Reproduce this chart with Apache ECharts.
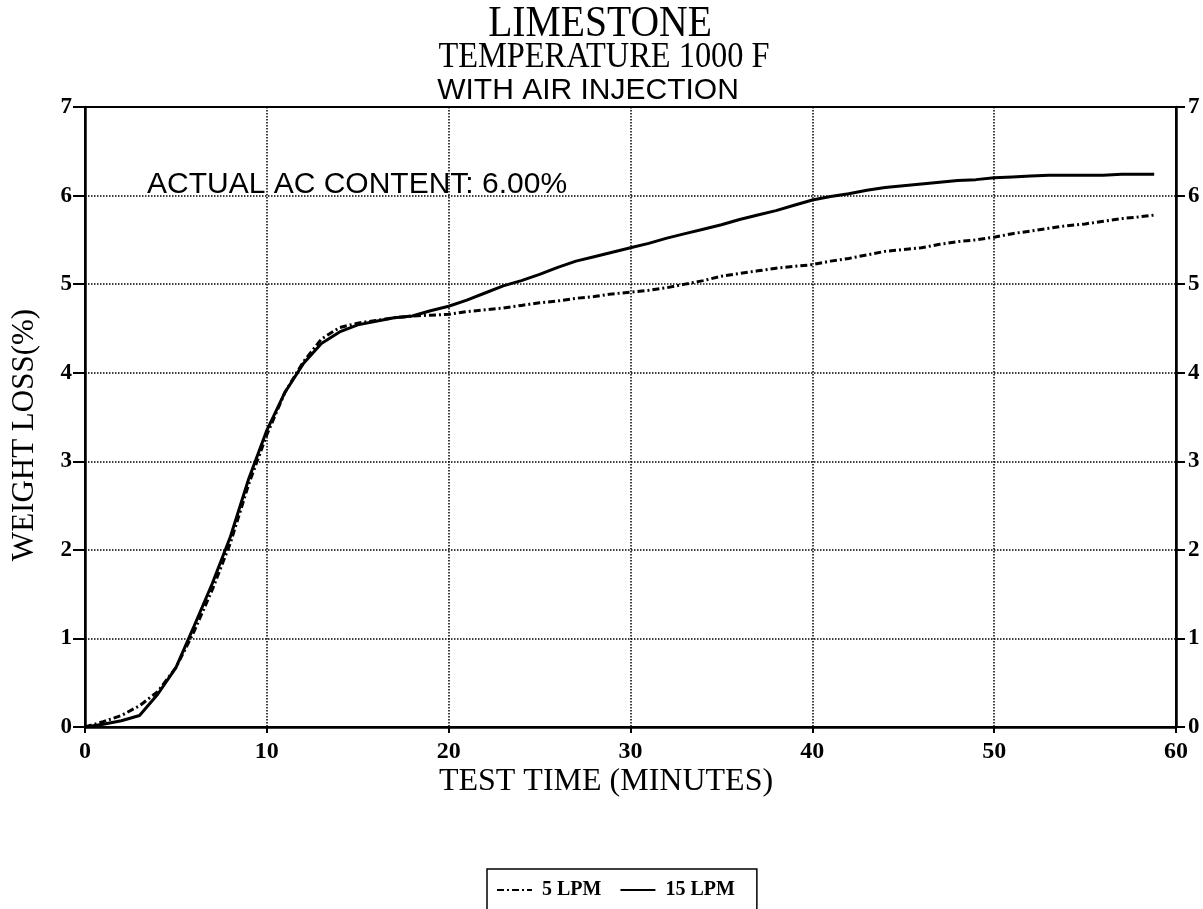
<!DOCTYPE html>
<html>
<head>
<meta charset="utf-8">
<script src="https://cdn.jsdelivr.net/npm/echarts@6/dist/echarts.min.js"></script>
<style>html,body{margin:0;padding:0;background:#fff}#c{width:1203px;height:909px}</style>
</head>
<body>
<div id="c"></div>
<script>
var times = [0,1,2,3,4,5,6,7,8,9,10,11,12,13,14,15,16,17,18,19,20,21,22,23,24,25,26,27,28,29,30,31,32,33,34,35,36,37,38,39,40,41,42,43,44,45,46,47,48,49,50,51,52,53,54,55,56,57,58,58.8];
var loss5LPM = [0,0.06,0.13,0.24,0.40,0.67,1.08,1.55,2.08,2.74,3.30,3.78,4.12,4.38,4.51,4.56,4.59,4.62,4.64,4.65,4.66,4.69,4.71,4.73,4.76,4.79,4.81,4.84,4.86,4.89,4.91,4.93,4.96,5.00,5.04,5.09,5.12,5.15,5.18,5.20,5.22,5.26,5.29,5.33,5.37,5.39,5.41,5.45,5.48,5.50,5.53,5.57,5.60,5.63,5.66,5.68,5.71,5.74,5.76,5.78];
var loss15LPM = [0,0.03,0.07,0.13,0.37,0.67,1.14,1.62,2.15,2.80,3.35,3.78,4.10,4.33,4.46,4.54,4.58,4.62,4.64,4.70,4.75,4.82,4.90,4.98,5.04,5.11,5.19,5.26,5.31,5.36,5.41,5.46,5.52,5.57,5.62,5.67,5.73,5.78,5.83,5.89,5.95,5.99,6.02,6.06,6.09,6.11,6.13,6.15,6.17,6.18,6.20,6.21,6.22,6.23,6.23,6.23,6.23,6.24,6.24,6.24];
var seriesNames = ['5 LPM','15 LPM'];
var titleLines = ['LIMESTONE','TEMPERATURE 1000 F','WITH AIR INJECTION'];
var noteText = 'ACTUAL AC CONTENT: 6.00%';
var xName = 'TEST TIME (MINUTES)';
var yName = 'WEIGHT LOSS(%)';

function pairs(ys){ return times.map(function(t,i){ return [t, ys[i]]; }); }

var serif = '"Liberation Serif", "DejaVu Serif", serif';
var sans = '"Liberation Sans", Arial, sans-serif';
function lab(size){ return {color:'#000', fontFamily: serif, fontWeight:'bold', fontSize:size}; }

var chart = echarts.init(document.getElementById('c'));
chart.setOption({
  animation:false,
  backgroundColor:'#fff',
  grid:{left:85, right:27, top:107, bottom:182, show:true, borderColor:'#000', borderWidth:2},
  xAxis:{type:'value', min:0, max:60, interval:10,
    axisLine:{show:true, onZero:false, lineStyle:{color:'#000', width:2.5}},
    axisTick:{show:true, length:6, lineStyle:{color:'#000', width:2}},
    axisLabel:Object.assign({margin:13}, lab(24)),
    splitLine:{show:true, lineStyle:{color:'#000', type:'dotted', width:1.5}}},
  yAxis:[{type:'value', min:0, max:7, interval:1, position:'left',
    axisLine:{show:true, onZero:false, lineStyle:{color:'#000', width:2.5}},
    axisTick:{show:true, length:12, lineStyle:{color:'#000', width:2}},
    axisLabel:Object.assign({margin:13}, lab(23)),
    splitLine:{show:true, lineStyle:{color:'#000', type:'dotted', width:1.5}}},
   {type:'value', min:0, max:7, interval:1, position:'right',
    axisLine:{show:true, onZero:false, lineStyle:{color:'#000', width:2.5}},
    axisTick:{show:true, length:9, lineStyle:{color:'#000', width:2}},
    axisLabel:Object.assign({margin:12}, lab(23)),
    splitLine:{show:false}}],
  legend:{left:487, top:869, orient:'horizontal', itemWidth:35, itemHeight:14, itemGap:18,
    padding:[11,22,30,9], borderColor:'#000', borderWidth:1.5, backgroundColor:'#fff',
    itemStyle:{opacity:0},
    textStyle:{color:'#000', fontFamily:serif, fontWeight:'bold', fontSize:20, padding:[0,0,0,5]},
    data:seriesNames},
  series:[
    {name:seriesNames[0], type:'line', data:pairs(loss5LPM), symbol:'none', smooth:false,
     lineStyle:{color:'#000', width:3, type:[7,3,2,3]}, itemStyle:{color:'#000'}},
    {name:seriesNames[1], type:'line', data:pairs(loss15LPM), symbol:'none', smooth:false,
     lineStyle:{color:'#000', width:3, type:'solid'}, itemStyle:{color:'#000'}}
  ],
  graphic:[
    {type:'text', x:600, y:24, scaleX:0.9, style:{text:titleLines[0], font:'44px '+serif, fill:'#000', textAlign:'center', textVerticalAlign:'middle'}},
    {type:'text', x:604, y:58, scaleX:0.9, style:{text:titleLines[1], font:'36px '+serif, fill:'#000', textAlign:'center', textVerticalAlign:'middle'}},
    {type:'text', x:588, y:91, style:{text:titleLines[2], font:'30px '+sans, fill:'#000', textAlign:'center', textVerticalAlign:'middle'}},
    {type:'text', x:147, y:185, style:{text:noteText, font:'30px '+sans, fill:'#000', textAlign:'left', textVerticalAlign:'middle'}},
    {type:'text', x:606, y:782, style:{text:xName, font:'32px '+serif, fill:'#000', textAlign:'center', textVerticalAlign:'middle'}},
    {type:'text', x:25, y:435, rotation:Math.PI/2, style:{text:yName, font:'31px '+serif, fill:'#000', textAlign:'center', textVerticalAlign:'middle'}}
  ]
});
</script>
</body>
</html>
